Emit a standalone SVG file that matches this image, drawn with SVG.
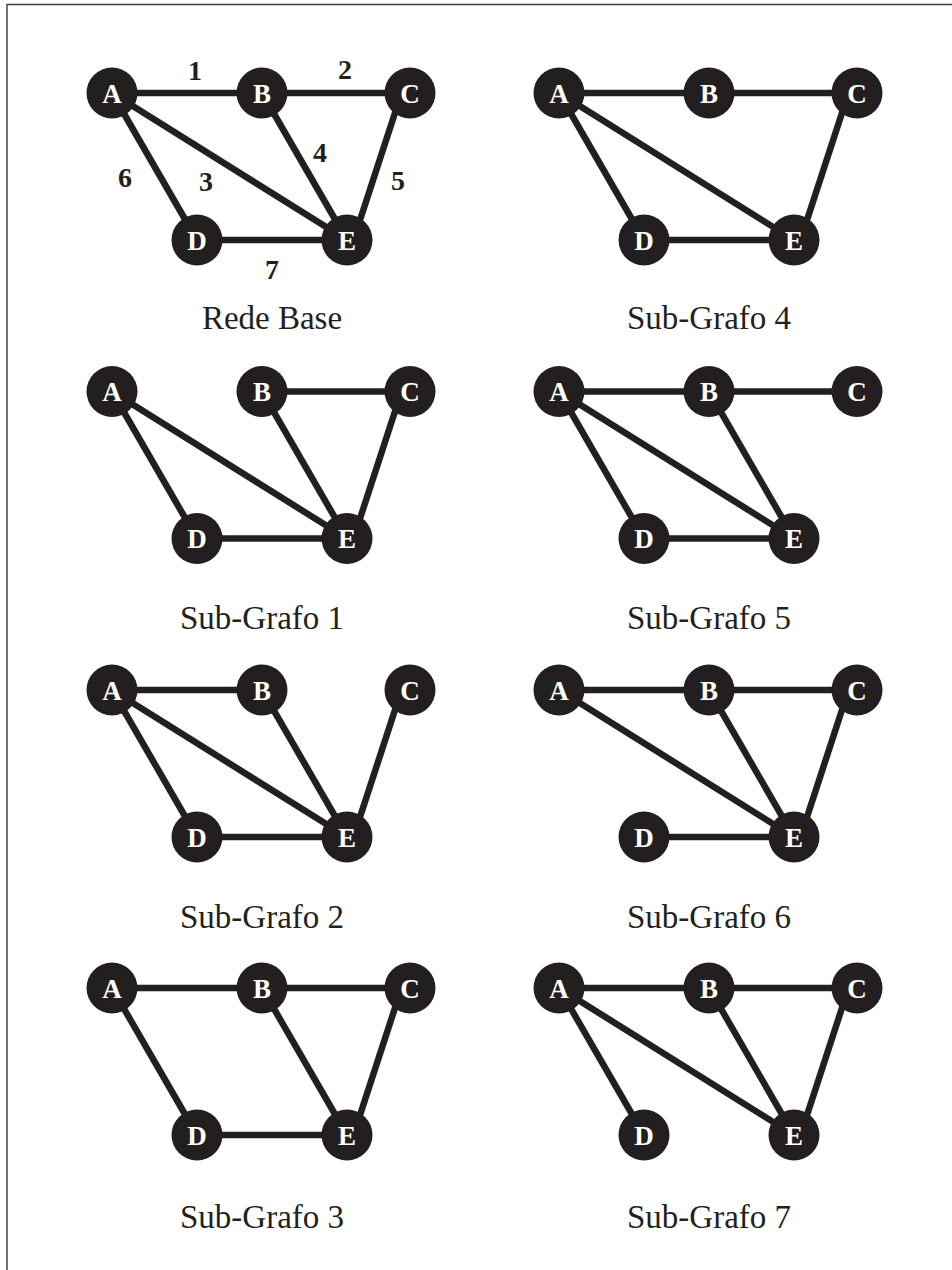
<svg xmlns="http://www.w3.org/2000/svg" width="952" height="1270" viewBox="0 0 952 1270">
<style>
.frame{fill:none;stroke:#3a3a3a;stroke-width:1.4}
.e{stroke:#231f20;stroke-width:6.5;stroke-linecap:butt}
.n circle{fill:#231f20}
.n text{fill:#ffffff;font-family:"Liberation Serif",serif;font-weight:bold;font-size:27px;text-anchor:middle}
.w{fill:#231f20;font-family:"Liberation Serif",serif;font-weight:bold;font-size:28px;text-anchor:middle}
.cap{fill:#231f20;font-family:"Liberation Serif",serif;font-size:33px;text-anchor:middle}
</style>
<rect width="952" height="1270" fill="#ffffff"/>
<path class="frame" d="M7,1270 V4.5 H952"/>
<g id="connectors">
<!-- Rede Base -->
<line class="e" x1="112" y1="93" x2="262" y2="93"/>
<line class="e" x1="262" y1="93" x2="410" y2="93"/>
<line class="e" x1="112" y1="93" x2="347" y2="240"/>
<line class="e" x1="262" y1="93" x2="347" y2="240"/>
<line class="e" x1="401.5" y1="93" x2="353.5" y2="240"/>
<line class="e" x1="112" y1="93" x2="197" y2="240"/>
<line class="e" x1="197" y1="240" x2="347" y2="240"/>
<!-- Sub-Grafo 4 -->
<line class="e" x1="559" y1="93" x2="709" y2="93"/>
<line class="e" x1="709" y1="93" x2="857" y2="93"/>
<line class="e" x1="559" y1="93" x2="794" y2="240"/>
<line class="e" x1="848.5" y1="93" x2="800.5" y2="240"/>
<line class="e" x1="559" y1="93" x2="644" y2="240"/>
<line class="e" x1="644" y1="240" x2="794" y2="240"/>
<!-- Sub-Grafo 1 -->
<line class="e" x1="262" y1="391.5" x2="410" y2="391.5"/>
<line class="e" x1="112" y1="391.5" x2="347" y2="538.5"/>
<line class="e" x1="262" y1="391.5" x2="347" y2="538.5"/>
<line class="e" x1="401.5" y1="391.5" x2="353.5" y2="538.5"/>
<line class="e" x1="112" y1="391.5" x2="197" y2="538.5"/>
<line class="e" x1="197" y1="538.5" x2="347" y2="538.5"/>
<!-- Sub-Grafo 5 -->
<line class="e" x1="559" y1="391.5" x2="709" y2="391.5"/>
<line class="e" x1="709" y1="391.5" x2="857" y2="391.5"/>
<line class="e" x1="559" y1="391.5" x2="794" y2="538.5"/>
<line class="e" x1="709" y1="391.5" x2="794" y2="538.5"/>
<line class="e" x1="559" y1="391.5" x2="644" y2="538.5"/>
<line class="e" x1="644" y1="538.5" x2="794" y2="538.5"/>
<!-- Sub-Grafo 2 -->
<line class="e" x1="112" y1="690" x2="262" y2="690"/>
<line class="e" x1="112" y1="690" x2="347" y2="837"/>
<line class="e" x1="262" y1="690" x2="347" y2="837"/>
<line class="e" x1="401.5" y1="690" x2="353.5" y2="837"/>
<line class="e" x1="112" y1="690" x2="197" y2="837"/>
<line class="e" x1="197" y1="837" x2="347" y2="837"/>
<!-- Sub-Grafo 6 -->
<line class="e" x1="559" y1="690" x2="709" y2="690"/>
<line class="e" x1="709" y1="690" x2="857" y2="690"/>
<line class="e" x1="559" y1="690" x2="794" y2="837"/>
<line class="e" x1="709" y1="690" x2="794" y2="837"/>
<line class="e" x1="848.5" y1="690" x2="800.5" y2="837"/>
<line class="e" x1="644" y1="837" x2="794" y2="837"/>
<!-- Sub-Grafo 3 -->
<line class="e" x1="112" y1="988" x2="262" y2="988"/>
<line class="e" x1="262" y1="988" x2="410" y2="988"/>
<line class="e" x1="262" y1="988" x2="347" y2="1135"/>
<line class="e" x1="401.5" y1="988" x2="353.5" y2="1135"/>
<line class="e" x1="112" y1="988" x2="197" y2="1135"/>
<line class="e" x1="197" y1="1135" x2="347" y2="1135"/>
<!-- Sub-Grafo 7 -->
<line class="e" x1="559" y1="988" x2="709" y2="988"/>
<line class="e" x1="709" y1="988" x2="857" y2="988"/>
<line class="e" x1="559" y1="988" x2="794" y2="1135"/>
<line class="e" x1="709" y1="988" x2="794" y2="1135"/>
<line class="e" x1="848.5" y1="988" x2="800.5" y2="1135"/>
<line class="e" x1="559" y1="988" x2="644" y2="1135"/>
</g>
<g id="edge-labels">
<text class="w" x="195" y="80">1</text>
<text class="w" x="345" y="79">2</text>
<text class="w" x="206" y="191">3</text>
<text class="w" x="320" y="162">4</text>
<text class="w" x="398" y="190">5</text>
<text class="w" x="125" y="187">6</text>
<text class="w" x="272" y="279">7</text>
</g>
<!-- Rede Base nodes -->
<g id="g0-A" class="n"><circle cx="112" cy="93" r="25.5"/><text x="112" y="102.5">A</text></g>
<g id="g0-B" class="n"><circle cx="262" cy="93" r="25.5"/><text x="262" y="102.5">B</text></g>
<g id="g0-C" class="n"><circle cx="410" cy="93" r="25.5"/><text x="410" y="102.5">C</text></g>
<g id="g0-D" class="n"><circle cx="197" cy="240" r="25.5"/><text x="197" y="249.5">D</text></g>
<g id="g0-E" class="n"><circle cx="347" cy="240" r="25.5"/><text x="347" y="249.5">E</text></g>
<!-- Sub-Grafo 4 nodes -->
<g id="g4-A" class="n"><circle cx="559" cy="93" r="25.5"/><text x="559" y="102.5">A</text></g>
<g id="g4-B" class="n"><circle cx="709" cy="93" r="25.5"/><text x="709" y="102.5">B</text></g>
<g id="g4-C" class="n"><circle cx="857" cy="93" r="25.5"/><text x="857" y="102.5">C</text></g>
<g id="g4-D" class="n"><circle cx="644" cy="240" r="25.5"/><text x="644" y="249.5">D</text></g>
<g id="g4-E" class="n"><circle cx="794" cy="240" r="25.5"/><text x="794" y="249.5">E</text></g>
<!-- Sub-Grafo 1 nodes -->
<g id="g1-A" class="n"><circle cx="112" cy="391.5" r="25.5"/><text x="112" y="401">A</text></g>
<g id="g1-B" class="n"><circle cx="262" cy="391.5" r="25.5"/><text x="262" y="401">B</text></g>
<g id="g1-C" class="n"><circle cx="410" cy="391.5" r="25.5"/><text x="410" y="401">C</text></g>
<g id="g1-D" class="n"><circle cx="197" cy="538.5" r="25.5"/><text x="197" y="548">D</text></g>
<g id="g1-E" class="n"><circle cx="347" cy="538.5" r="25.5"/><text x="347" y="548">E</text></g>
<!-- Sub-Grafo 5 nodes -->
<g id="g5-A" class="n"><circle cx="559" cy="391.5" r="25.5"/><text x="559" y="401">A</text></g>
<g id="g5-B" class="n"><circle cx="709" cy="391.5" r="25.5"/><text x="709" y="401">B</text></g>
<g id="g5-C" class="n"><circle cx="857" cy="391.5" r="25.5"/><text x="857" y="401">C</text></g>
<g id="g5-D" class="n"><circle cx="644" cy="538.5" r="25.5"/><text x="644" y="548">D</text></g>
<g id="g5-E" class="n"><circle cx="794" cy="538.5" r="25.5"/><text x="794" y="548">E</text></g>
<!-- Sub-Grafo 2 nodes -->
<g id="g2-A" class="n"><circle cx="112" cy="690" r="25.5"/><text x="112" y="699.5">A</text></g>
<g id="g2-B" class="n"><circle cx="262" cy="690" r="25.5"/><text x="262" y="699.5">B</text></g>
<g id="g2-C" class="n"><circle cx="410" cy="690" r="25.5"/><text x="410" y="699.5">C</text></g>
<g id="g2-D" class="n"><circle cx="197" cy="837" r="25.5"/><text x="197" y="846.5">D</text></g>
<g id="g2-E" class="n"><circle cx="347" cy="837" r="25.5"/><text x="347" y="846.5">E</text></g>
<!-- Sub-Grafo 6 nodes -->
<g id="g6-A" class="n"><circle cx="559" cy="690" r="25.5"/><text x="559" y="699.5">A</text></g>
<g id="g6-B" class="n"><circle cx="709" cy="690" r="25.5"/><text x="709" y="699.5">B</text></g>
<g id="g6-C" class="n"><circle cx="857" cy="690" r="25.5"/><text x="857" y="699.5">C</text></g>
<g id="g6-D" class="n"><circle cx="644" cy="837" r="25.5"/><text x="644" y="846.5">D</text></g>
<g id="g6-E" class="n"><circle cx="794" cy="837" r="25.5"/><text x="794" y="846.5">E</text></g>
<!-- Sub-Grafo 3 nodes -->
<g id="g3-A" class="n"><circle cx="112" cy="988" r="25.5"/><text x="112" y="997.5">A</text></g>
<g id="g3-B" class="n"><circle cx="262" cy="988" r="25.5"/><text x="262" y="997.5">B</text></g>
<g id="g3-C" class="n"><circle cx="410" cy="988" r="25.5"/><text x="410" y="997.5">C</text></g>
<g id="g3-D" class="n"><circle cx="197" cy="1135" r="25.5"/><text x="197" y="1144.5">D</text></g>
<g id="g3-E" class="n"><circle cx="347" cy="1135" r="25.5"/><text x="347" y="1144.5">E</text></g>
<!-- Sub-Grafo 7 nodes -->
<g id="g7-A" class="n"><circle cx="559" cy="988" r="25.5"/><text x="559" y="997.5">A</text></g>
<g id="g7-B" class="n"><circle cx="709" cy="988" r="25.5"/><text x="709" y="997.5">B</text></g>
<g id="g7-C" class="n"><circle cx="857" cy="988" r="25.5"/><text x="857" y="997.5">C</text></g>
<g id="g7-D" class="n"><circle cx="644" cy="1135" r="25.5"/><text x="644" y="1144.5">D</text></g>
<g id="g7-E" class="n"><circle cx="794" cy="1135" r="25.5"/><text x="794" y="1144.5">E</text></g>
<g id="captions">
<text class="cap" x="272" y="329">Rede Base</text>
<text class="cap" x="709" y="329">Sub-Grafo 4</text>
<text class="cap" x="262" y="629">Sub-Grafo 1</text>
<text class="cap" x="709" y="629">Sub-Grafo 5</text>
<text class="cap" x="262" y="928">Sub-Grafo 2</text>
<text class="cap" x="709" y="928">Sub-Grafo 6</text>
<text class="cap" x="262" y="1228">Sub-Grafo 3</text>
<text class="cap" x="709" y="1228">Sub-Grafo 7</text>
</g>
</svg>
